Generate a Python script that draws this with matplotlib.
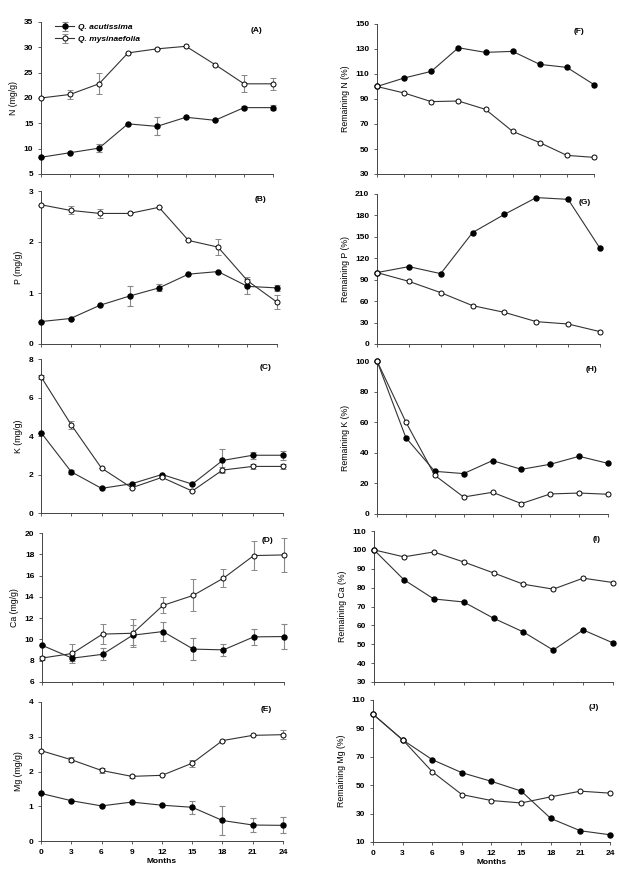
import numpy as np
import matplotlib
matplotlib.use("Agg")
import matplotlib.pyplot as plt

plt.rcParams['font.family'] = ['Liberation Sans', 'DejaVu Sans']

W, H = 619, 886

months = [0, 3, 6, 9, 12, 15, 18, 21, 24]
months_g = [0, 3, 6, 9, 12, 15, 18, 21]

# nutrient concentration (mg/g), Q. acutissima (filled) and Q. mysinaefolia (open)
n_acu = [8.3, 9.2, 10.1, 14.9, 14.4, 16.2, 15.6, 18.1, 18.1]
n_acu_err = [0, 0, 0.8, 0, 1.8, 0, 0, 0.3, 0.5]
n_mys = [20.0, 20.7, 22.8, 28.9, 29.7, 30.2, 26.6, 22.8, 22.8]
n_mys_err = [0, 0.8, 2.1, 0, 0, 0, 0, 1.7, 1.2]

p_acu = [0.44, 0.50, 0.76, 0.94, 1.10, 1.37, 1.42, 1.13, 1.10]
p_acu_err = [0, 0, 0, 0.2, 0.07, 0, 0, 0.15, 0.06]
p_mys = [2.73, 2.62, 2.56, 2.56, 2.68, 2.03, 1.90, 1.24, 0.82]
p_mys_err = [0, 0.08, 0.09, 0, 0, 0, 0.16, 0.08, 0.14]

k_acu = [4.18, 2.14, 1.28, 1.52, 2.0, 1.50, 2.73, 3.0, 3.0]
k_acu_err = [0, 0.1, 0, 0, 0, 0, 0.62, 0.18, 0.23]
k_mys = [7.08, 4.58, 2.33, 1.31, 1.85, 1.14, 2.23, 2.42, 2.42]
k_mys_err = [0.1, 0.2, 0, 0, 0, 0, 0.15, 0.15, 0.12]

ca_acu = [9.45, 8.24, 8.6, 10.4, 10.74, 9.09, 9.02, 10.24, 10.27]
ca_acu_err = [0, 0.3, 0.55, 0.95, 0.9, 1.0, 0.55, 0.72, 1.15]
ca_mys = [8.25, 8.68, 10.5, 10.58, 13.2, 14.14, 15.76, 17.88, 17.94]
ca_mys_err = [0.2, 0.85, 0.95, 1.3, 0.75, 1.5, 0.85, 1.35, 1.6]

mg_acu = [1.37, 1.16, 1.01, 1.12, 1.03, 0.97, 0.59, 0.46, 0.45]
mg_acu_err = [0, 0, 0, 0, 0, 0.18, 0.42, 0.21, 0.23]
mg_mys = [2.6, 2.34, 2.03, 1.86, 1.89, 2.24, 2.89, 3.04, 3.06]
mg_mys_err = [0, 0.07, 0.08, 0.05, 0, 0.1, 0, 0, 0.12]

# remaining nutrient (%)
rn_acu = [100, 106.8, 112.1, 131, 127.3, 128.1, 117.7, 115.3, 101.5]
rn_mys = [100, 94.8, 87.9, 88.4, 81.7, 64.1, 55.1, 44.9, 43.3]
rp_acu = [100, 108.3, 98.5, 156, 181.5, 205, 202.5, 134]
rp_mys = [100, 87.7, 71.9, 53.7, 44.3, 31.3, 28, 17.3]
rk_acu = [100, 49.9, 27.9, 26.4, 34.9, 29.2, 32.5, 37.7, 33.1]
rk_mys = [100, 60.1, 25.3, 11.1, 14.2, 6.8, 13.1, 13.7, 12.9]
rca_acu = [100, 84.2, 74.0, 72.4, 63.8, 56.5, 46.9, 57.6, 50.7]
rca_mys = [100, 96.3, 98.9, 93.6, 87.8, 81.8, 79.2, 85.0, 82.7]
rmg_acu = [100, 81.9, 68.0, 58.8, 52.7, 45.9, 26.6, 17.9, 15.1]
rmg_mys = [100, 82, 59.5, 43.4, 39.2, 37.5, 41.8, 45.8, 44.4]

narrow = ['Liberation Sans Narrow', 'Liberation Sans', 'DejaVu Sans']

fig = plt.figure(figsize=(W / 100, H / 100), dpi=100)


def make_ax(x0, x1, yt, yb):
    return fig.add_axes([x0 / W, 1 - yb / H, (x1 - x0) / W, (yb - yt) / H])


def style(ax, xs, ylim, yticks, ylabel, tag, bottom=False):
    ax.set_xlim(xs[0], xs[-1])
    ax.set_ylim(*ylim)
    ax.set_xticks(xs)
    ax.set_yticks(yticks)
    for s in ['top', 'right']:
        ax.spines[s].set_visible(False)
    for s in ['left', 'bottom']:
        ax.spines[s].set_linewidth(0.7)
        ax.spines[s].set_color('#444444')
    ax.tick_params(direction='out', length=2.5, width=0.6, color='#444444',
                   labelsize=6, pad=3)
    for lab in ax.get_yticklabels() + ax.get_xticklabels():
        lab.set_fontweight('bold')
    if bottom:
        ax.set_xlabel('Months', fontsize=6, fontweight='bold', labelpad=2)
    else:
        ax.set_xticklabels([])
    ax.set_ylabel(ylabel, fontsize=6.3, family=narrow, labelpad=4)
    ax.text(0.93, 0.97, tag, transform=ax.transAxes, ha='center', va='top',
            fontsize=6, fontweight='bold')


def conc(ax, acu, acu_err, mys, mys_err):
    ax.errorbar(months, acu, yerr=acu_err, color='#333333', lw=0.8,
                marker='o', ms=3.6, mfc='black', mec='black',
                ecolor='#888888', elinewidth=0.8, capsize=2, capthick=0.8,
                clip_on=False, zorder=3, label='Q. acutissima')
    ax.errorbar(months, mys, yerr=mys_err, color='#333333', lw=0.8,
                marker='o', ms=3.6, mfc='white', mec='black', mew=0.7,
                ecolor='#888888', elinewidth=0.8, capsize=2, capthick=0.8,
                clip_on=False, zorder=3, label='Q. mysinaefolia')


def remain(ax, xs, acu, mys):
    ax.plot(xs, acu, color='#333333', lw=0.8, marker='o', ms=3.6,
            mfc='black', mec='black', clip_on=False, zorder=3)
    ax.plot(xs, mys, color='#333333', lw=0.8, marker='o', ms=3.6,
            mfc='white', mec='black', mew=0.7, clip_on=False, zorder=3)


# left column
ax = make_ax(41, 273, 22, 174)
conc(ax, n_acu, n_acu_err, n_mys, n_mys_err)
style(ax, months, (5, 35), range(5, 36, 5), 'N (mg/g)', '(A)')
leg = ax.legend(loc='upper left', bbox_to_anchor=(0.03, 1.04), frameon=False,
                fontsize=6, handlelength=2.2, handletextpad=0.5,
                labelspacing=0.5)
for t in leg.get_texts():
    t.set_fontstyle('italic')
    t.set_fontweight('bold')

ax = make_ax(41, 277, 191, 344)
conc(ax, p_acu, p_acu_err, p_mys, p_mys_err)
style(ax, months, (0, 3), range(0, 4), 'P (mg/g)', '(B)')

ax = make_ax(41, 283, 359, 513)
conc(ax, k_acu, k_acu_err, k_mys, k_mys_err)
style(ax, months, (0, 8), range(0, 9, 2), 'K (mg/g)', '(C)')

ax = make_ax(42, 284, 533, 682)
conc(ax, ca_acu, ca_acu_err, ca_mys, ca_mys_err)
style(ax, months, (6, 20), range(6, 21, 2), 'Ca (mg/g)', '(D)')

ax = make_ax(41, 283, 702, 841)
conc(ax, mg_acu, mg_acu_err, mg_mys, mg_mys_err)
style(ax, months, (0, 4), range(0, 5), 'Mg (mg/g)', '(E)', bottom=True)

# right column
ax = make_ax(377, 594, 24, 174)
remain(ax, months, rn_acu, rn_mys)
style(ax, months, (30, 150), range(30, 151, 20), 'Remaining N (%)', '(F)')

ax = make_ax(377, 600, 194, 344)
remain(ax, months_g, rp_acu, rp_mys)
style(ax, months_g, (0, 210), range(0, 211, 30), 'Remaining P (%)', '(G)')

ax = make_ax(377, 608, 361, 514)
remain(ax, months, rk_acu, rk_mys)
style(ax, months, (0, 100), range(0, 101, 20), 'Remaining K (%)', '(H)')

ax = make_ax(374, 613, 531, 682)
remain(ax, months, rca_acu, rca_mys)
style(ax, months, (30, 110), range(30, 111, 10), 'Remaining Ca (%)', '(I)')

ax = make_ax(373, 610, 700, 842)
remain(ax, months, rmg_acu, rmg_mys)
style(ax, months, (10, 110), range(10, 111, 20), 'Remaining Mg (%)', '(J)',
      bottom=True)

fig.savefig('out.png', dpi=100)
